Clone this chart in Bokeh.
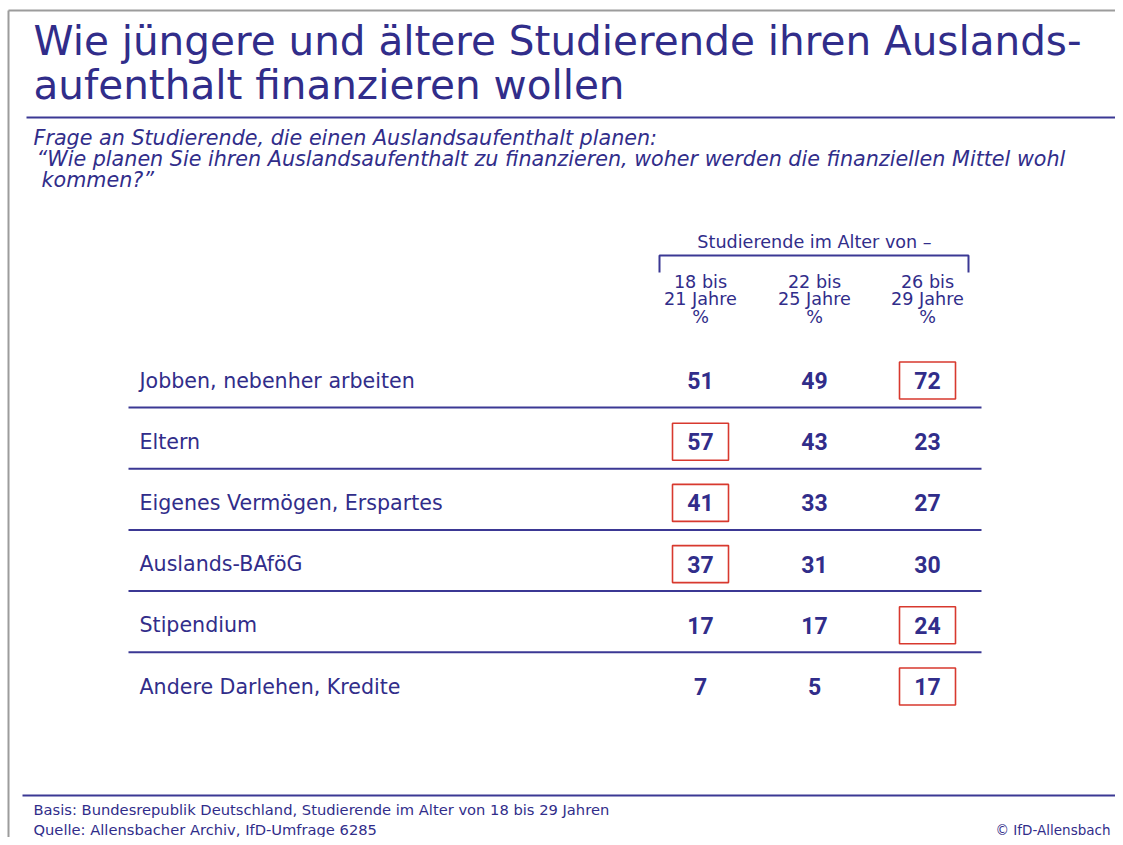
from bokeh.plotting import figure
from bokeh.models import Range1d
from bokeh.embed import file_html
from bokeh.resources import INLINE
from bokeh.core.properties import value

# ---------------- data ----------------
title_lines = ["Wie jüngere und ältere Studierende ihren Auslands-",
               "aufenthalt finanzieren wollen"]
question_lines = ["Frage an Studierende, die einen Auslandsaufenthalt planen:",
                  "\u201cWie planen Sie ihren Auslandsaufenthalt zu finanzieren, woher werden die finanziellen Mittel wohl",
                  " kommen?\u201d"]
group_label = "Studierende im Alter von \u2013"
column_heads = [["18 bis", "21 Jahre", "%"],
                ["22 bis", "25 Jahre", "%"],
                ["26 bis", "29 Jahre", "%"]]
categories = ["Jobben, nebenher arbeiten", "Eltern", "Eigenes Vermögen, Erspartes",
              "Auslands-BAföG", "Stipendium", "Andere Darlehen, Kredite"]
age_18_21 = [51, 57, 41, 37, 17, 7]
age_22_25 = [49, 43, 33, 31, 17, 5]
age_26_29 = [72, 23, 27, 30, 24, 17]
footer_lines = ["Basis: Bundesrepublik Deutschland, Studierende im Alter von 18 bis 29 Jahren",
                "Quelle: Allensbacher Archiv, IfD-Umfrage 6285"]
copyright_text = "\u00a9 IfD-Allensbach"

# ---------------- style / layout ----------------
TXT = "#312D8A"
LINE = "#3B3894"
RED = "#D8392E"
GRAY = "#9C9C9C"
FONT = value("DejaVu Sans")
NUMFONT = value("Roboto")

W, H = 1115, 837
col_x = [700, 814, 927]
row_y0, row_step = 380, 61.2
label_x = 139

p = figure(width=W, height=H, x_range=Range1d(0, W), y_range=Range1d(H, 0),
           x_axis_type=None, y_axis_type=None, toolbar_location=None,
           output_backend="svg", min_border=0, outline_line_color=None)
p.grid.visible = False
p.background_fill_color = "white"
p.border_fill_color = "white"

# frame (gray)
p.segment(x0=[8, 8], y0=[10, 10], x1=[W, 8], y1=[10, H], line_color=GRAY, line_width=2)

# title
p.text(x=[33, 33], y=[40, 84], text=title_lines, text_font=FONT,
       text_font_size="40.5px", text_color=TXT, text_baseline="alphabetic", text_align="left")
p.segment(x0=[26], y0=[117], x1=[W], y1=[117], line_color=LINE, line_width=2)

# question
p.text(x=[33, 36, 41], y=[137, 158, 179], text=question_lines, text_font=FONT,
       text_font_style="italic", text_font_size="20.7px", text_color=TXT,
       text_baseline="alphabetic", text_align="left")

# group header + bracket
p.text(x=[814], y=[241], text=[group_label], text_font=FONT,
       text_font_size="17.6px", text_color=TXT, text_baseline="middle", text_align="center")
p.line(x=[659, 659, 968, 968], y=[272, 255, 255, 272], line_color=LINE, line_width=2)

hx, hy, ht = [], [], []
for cx, lines in zip(col_x, column_heads):
    for k, t in enumerate(lines):
        hx.append(cx)
        hy.append(281 + k * 17.5)
        ht.append(t)
p.text(x=hx, y=hy, text=ht, text_font=FONT, text_font_size="17.6px", text_color=TXT,
       text_baseline="middle", text_align="center")

# rows
n = len(categories)
row_y = [row_y0 + i * row_step for i in range(n)]
p.text(x=[label_x] * n, y=row_y, text=categories, text_font=FONT, text_font_size="20.6px",
       text_color=TXT, text_baseline="middle", text_align="left")

# separators
sep_y = [y + 27 for y in row_y[:-1]]
p.segment(x0=[128] * len(sep_y), y0=sep_y, x1=[981] * len(sep_y), y1=sep_y,
          line_color=LINE, line_width=2)

# values + highlight boxes (row maximum)
series = [age_18_21, age_22_25, age_26_29]
nx, ny, nt, bx, by = [], [], [], [], []
for i in range(n):
    row_vals = [s[i] for s in series]
    m = max(row_vals)
    for j, v in enumerate(row_vals):
        nx.append(col_x[j])
        ny.append(row_y[i])
        nt.append(str(v))
        if v == m:
            bx.append(col_x[j])
            by.append(row_y[i])
p.rect(x=bx, y=by, width=56, height=37, fill_color=None, line_color=RED, line_width=1.6)
p.text(x=nx, y=ny, text=nt, text_font=NUMFONT, text_font_style="bold", text_font_size="23px",
       text_color=TXT, text_baseline="middle", text_align="center")

# footer
p.segment(x0=[22], y0=[795], x1=[W], y1=[795], line_color=LINE, line_width=2)
p.text(x=[33, 33], y=[809, 829], text=footer_lines, text_font=FONT, text_font_size="14.7px",
       text_color=TXT, text_baseline="middle", text_align="left")
p.text(x=[1110], y=[829], text=[copyright_text], text_font=FONT, text_font_size="13.5px",
       text_color=TXT, text_baseline="middle", text_align="right")

open("out.html", "w").write(file_html(p, INLINE))
